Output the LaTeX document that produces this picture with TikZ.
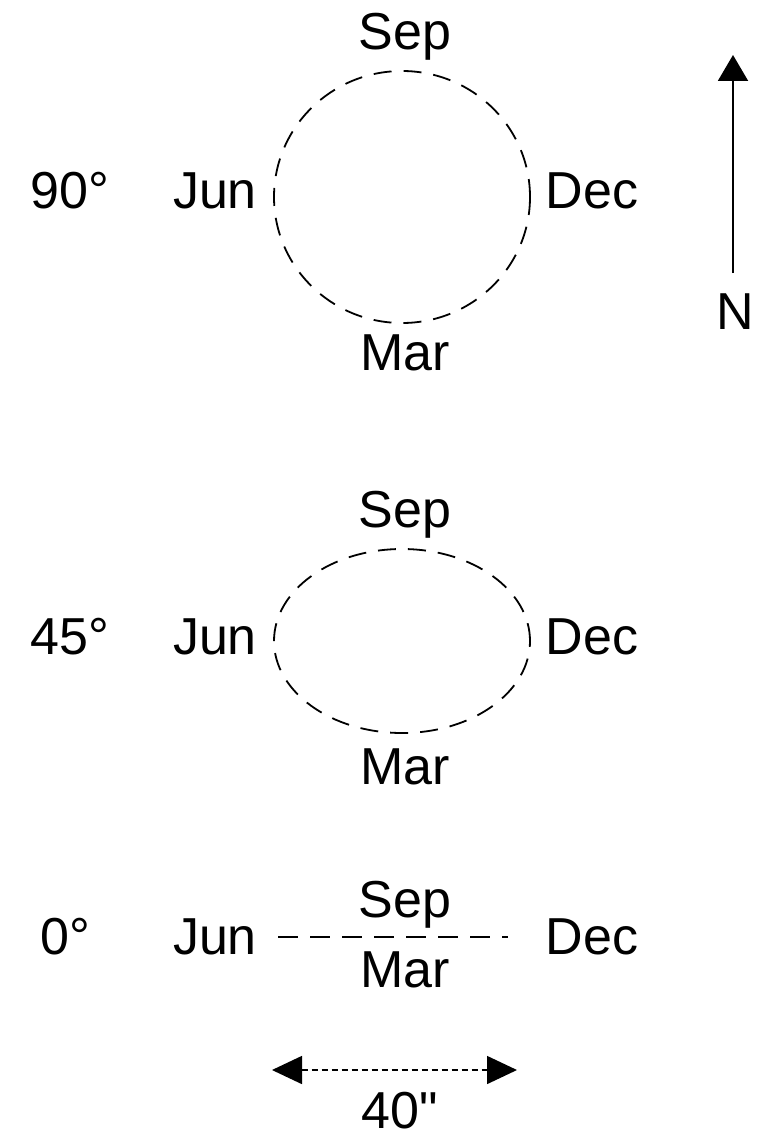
\documentclass[tikz,border=0pt]{standalone}
\usepackage{fontspec}
\setmainfont{Liberation Sans}
% same face without the TeX quote ligatures, for a straight double quote
\newfontfamily\plainquote{Liberation Sans}
\usetikzlibrary{arrows.meta}
\begin{document}
\begin{tikzpicture}[x=1pt,y=-1pt,
  lbl/.style={font=\fontsize{52}{56}\selectfont, inner sep=0pt},
  orbit/.style={line width=1.8pt, dash pattern=on 18pt off 12pt},
  flatorbit/.style={line width=1.8pt, dash pattern=on 20pt off 12pt},
  northarrow/.style={line width=2pt, -{Triangle[length=26pt,width=30pt]}},
  scalearrow/.style={line width=1.6pt, dash pattern=on 6pt off 4pt,
    {Triangle[length=30pt,width=28pt]}-{Triangle[length=30pt,width=28pt]}}]
\useasboundingbox (0,0) rectangle (772,1137);

% inclination 90 degrees: circular path
\draw[orbit] (402,197) ellipse [x radius=128pt, y radius=126pt];
\node[lbl] (s90) at (405,37) {Sep};
\node[lbl] (m90) at (405,353) {Mar};
\node[lbl] (j90) at (215,191) {Jun};
\node[lbl] (d90) at (592,191) {Dec};
\node[lbl] (i90) at (70,191) {90°};

% inclination 45 degrees: elliptical path
\draw[orbit] (402,641) ellipse [x radius=128pt, y radius=92pt];
\node[lbl] (s45) at (405,515) {Sep};
\node[lbl] (m45) at (405,767) {Mar};
\node[lbl] (j45) at (215,637) {Jun};
\node[lbl] (d45) at (592,637) {Dec};
\node[lbl] (i45) at (70,637) {45°};

% inclination 0 degrees: path seen edge-on
\coordinate (l0) at (278,937);
\coordinate (r0) at (508,937);
\draw[flatorbit] (l0) -- (r0);
\node[lbl] (s0) at (405,905) {Sep};
\node[lbl] (m0) at (405,970) {Mar};
\node[lbl] (j0) at (215,937) {Jun};
\node[lbl] (d0) at (592,937) {Dec};
\node[lbl] (i0) at (65,937) {0°};

% north direction
\coordinate (nbase) at (733,273);
\coordinate (ntip) at (733,55);
\draw[northarrow] (nbase) -- (ntip);
\node[lbl] (nlab) at (735,312) {N};

% angular scale
\coordinate (sl) at (272,1070);
\coordinate (sr) at (517,1070);
\draw[scalearrow] (sl) -- (sr);
\node[lbl] (scale) at (400,1111) {40{\plainquote"}};
\end{tikzpicture}
\end{document}
